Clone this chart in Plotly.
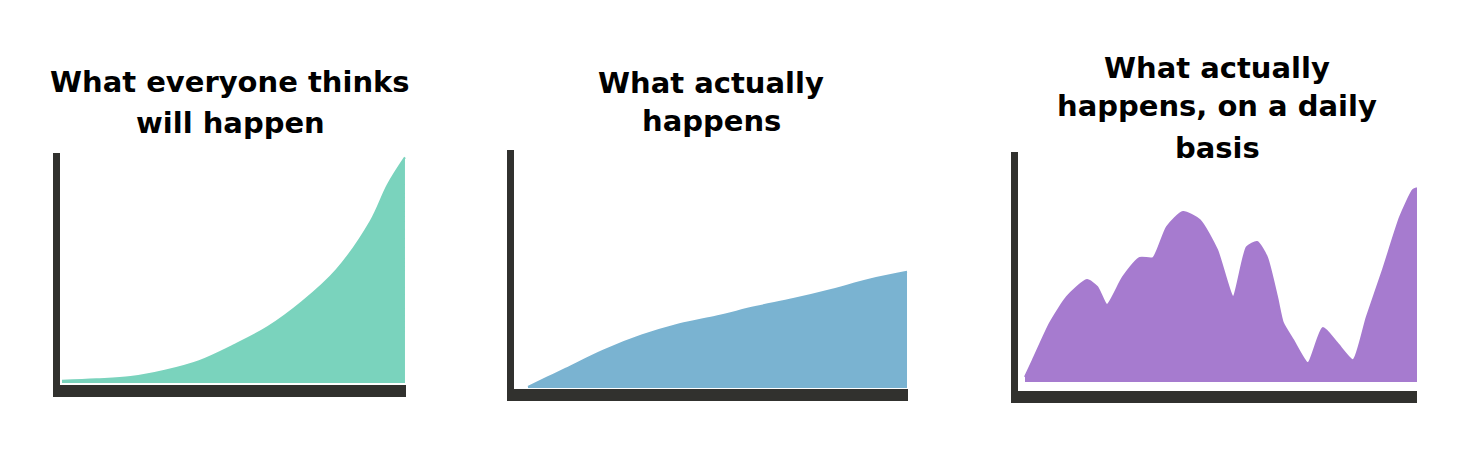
import plotly.graph_objects as go

# page is shifted by the default 8px body margin, so the figure is 8px smaller
OFF = 8
W, H = 1470 - OFF, 459 - OFF

# ---- data (conceptual "progress" curves) ----
title_lines = [
    ["What everyone thinks", "will happen"],
    ["What actually", "happens"],
    ["What actually", "happens, on a daily", "basis"],
]

x_expected = [0, 10, 20, 30, 40, 50, 60, 70, 80, 90, 95, 100]
y_expected = [1, 1.6, 2.6, 5.4, 9.6, 16.5, 24.5, 35.5, 49.5, 71, 87, 99]

x_actual = [0, 5, 10, 20, 30, 40, 50, 60, 70, 80, 90, 100]
y_actual = [0.5, 4.5, 8.5, 16.5, 23, 28, 31.5, 35.5, 39, 43, 47.5, 51]

x_daily = [0, 2, 6.4, 10.7, 15.8, 18.4, 20.9, 25, 29.3, 32.7, 36.2, 40.3, 44.6,
           49, 53.1, 56.6, 59.2, 61.7, 64.3, 65.8, 68.4, 72.2, 76, 79.6, 83.7,
           87.2, 91.3, 95.7, 99, 100]
y_daily = [2.2, 9.6, 25.9, 37.3, 44.7, 41.7, 33.8, 46, 54.4, 54.4, 68, 74.6, 71,
           57.9, 37.3, 59.2, 61.4, 54.8, 37.3, 25.9, 18.4, 8.3, 23.7, 17.1, 9.6,
           28.5, 49.1, 72.4, 84.2, 85]

colors = ["#7ad3bd", "#7ab3d1", "#a67bcf"]
axis_color = "#31312e"

# ---- layout helpers (page-pixel boxes of each panel's plot area) ----
def xd(a, b):
    return [(a - OFF) / W, (b - OFF) / W]

def yd(top, bottom):
    return [1 - (bottom - OFF) / H, 1 - (top - OFF) / H]

panels = [
    dict(x=x_expected, y=y_expected, dom_x=xd(59.5, 406), dom_y=yd(153, 385),
         xr=[-0.73, 100.3], yr=[-0.88, 100.9], smooth=1.0),
    dict(x=x_actual, y=y_actual, dom_x=xd(513.5, 908), dom_y=yd(150, 389),
         xr=[-3.83, 100.26], yr=[-0.44, 104.4], smooth=1.0),
    dict(x=x_daily, y=y_daily, dom_x=xd(1017.5, 1417), dom_y=yd(152, 391),
         xr=[-1.91, 100.0], yr=[-3.95, 100.9], smooth=0.6),
]

fig = go.Figure()
layout = dict(
    width=W, height=H,
    margin=dict(l=0, r=0, t=0, b=0),
    paper_bgcolor="white", plot_bgcolor="white",
    showlegend=False,
)

for i, p in enumerate(panels):
    n = "" if i == 0 else str(i + 1)
    fig.add_trace(go.Scatter(
        x=p["x"], y=p["y"], mode="lines",
        line=dict(color=colors[i], width=2, shape="spline", smoothing=p["smooth"]),
        fill="tozeroy", fillcolor=colors[i],
        xaxis="x" + n, yaxis="y" + n, hoverinfo="skip",
    ))
    layout["xaxis" + n] = dict(
        domain=p["dom_x"], range=p["xr"], anchor="y" + n,
        showgrid=False, zeroline=False, showticklabels=False, ticks="",
        showline=True, linecolor=axis_color, linewidth=12,
    )
    layout["yaxis" + n] = dict(
        domain=p["dom_y"], range=p["yr"], anchor="x" + n,
        showgrid=False, zeroline=False, showticklabels=False, ticks="",
        showline=True, linecolor=axis_color, linewidth=7,
    )

# page-pixel centre of each title line
title_x = [230, 711, 1217]
title_y = [[82, 123], [83, 121], [68, 106, 148]]
annotations = []
for lines, cx, ys in zip(title_lines, title_x, title_y):
    for t, cy in zip(lines, ys):
        annotations.append(dict(
            text=t, xref="paper", yref="paper",
            x=(cx - OFF) / W, y=1 - (cy - OFF) / H,
            xanchor="center", yanchor="middle", showarrow=False,
            font=dict(family="DejaVu Sans", size=29, color="black", weight="bold"),
        ))
layout["annotations"] = annotations

fig.update_layout(**layout)
fig.write_html("out.html")
